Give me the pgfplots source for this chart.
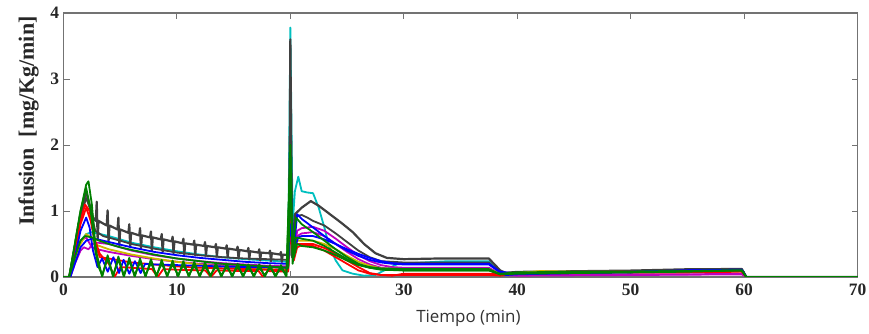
\documentclass[border=0pt]{standalone}
\usepackage{fontspec}
\setmainfont{Liberation Serif}
\newfontfamily\sansx{Open Sans}
\usepackage{pgfplots}
\pgfplotsset{compat=1.18}
\definecolor{mblue}{rgb}{0,0,1}
\definecolor{mgreen}{rgb}{0,0.5,0}
\definecolor{mred}{rgb}{1,0,0}
\definecolor{mcyan}{rgb}{0,0.75,0.75}
\definecolor{mmag}{rgb}{0.75,0,0.75}
\definecolor{myel}{rgb}{0.8,0.72,0}
\definecolor{mgray}{rgb}{0.25,0.25,0.25}
\definecolor{axgray}{rgb}{0.45,0.45,0.45}
\begin{document}
\begin{tikzpicture}
\path[use as bounding box] (-63.5bp,-57bp) rectangle (805.5bp,277bp);
\begin{axis}[
  at={(0,0)}, anchor=south west,
  scale only axis, width=794bp, height=264bp,
  xmin=0, xmax=70, ymin=0, ymax=4,
  xtick={0,10,...,70}, ytick={0,1,2,3,4},
  tick align=inside, major tick length=6bp,
  axis line style={axgray, line width=1.2bp},
  every tick/.style={axgray, line width=1bp},
  /pgf/number format/assume math mode=true,
  ticklabel style={font=\bfseries\fontsize{17.5}{17.5}\selectfont, text=black!85},
  xticklabel style={yshift=-3bp},
  yticklabel style={xshift=-1bp},
  xlabel={\sansx\fontsize{17}{17}\selectfont Tiempo (min)},
  ylabel={\bfseries\fontsize{22}{22}\selectfont Infusion\ \ [mg/Kg/min]},
  xlabel style={at={(axis description cs:0.51,0)}, anchor=center, yshift=-41bp, text=black!80},
  ylabel style={at={(axis description cs:-0.044,0.59)}, anchor=center, text=black!85},
  every axis plot/.append style={line width=1.8bp, line join=round},
]
% cyan
\addplot[mcyan] coordinates {(0,0)(0.5,0)(1,0.3)(1.5,0.55)(2,0.65)(2.5,0.68)(3,0.66)(4,0.62)(5,0.57)(6,0.52)(8,0.45)(10,0.39)(12,0.34)(14,0.3)(16,0.27)(18,0.25)(19.8,0.23)(20,3.78)(20.2,0.8)(20.4,1.3)(20.7,1.52)(21,1.3)(21.5,1.28)(22,1.27)(22.5,1.05)(23,0.75)(23.4,0.48)(24,0.25)(24.6,0.1)(25.5,0.05)(26.5,0.02)(27.5,0.03)(28.5,0.12)(29.5,0.2)(34,0.24)(37.5,0.24)(38.5,0.06)(40,0.05)(45,0.06)(50,0.07)(55,0.08)(59.8,0.09)(60.2,0)(70,0)};
% dark gray comb
\addplot[mgray, line width=2.2bp] coordinates {(0,0)(0.5,0)(1.0,0.45)(1.5,0.95)(2.0,1.3)(2.3,1.1)(2.6,0.9)
(2.85,0.85)(2.93,1.14)(3.01,0.58)(3.09,0.85)
(3.81,0.78)(3.89,1.01)(3.97,0.53)(4.05,0.78)
(4.76,0.72)(4.84,0.90)(4.92,0.48)(5.00,0.72)
(5.72,0.67)(5.80,0.80)(5.88,0.45)(5.96,0.67)
(6.67,0.63)(6.75,0.74)(6.83,0.42)(6.91,0.63)
(7.63,0.60)(7.71,0.69)(7.79,0.40)(7.87,0.60)
(8.58,0.57)(8.66,0.65)(8.74,0.38)(8.82,0.57)
(9.54,0.54)(9.62,0.61)(9.70,0.36)(9.78,0.54)
(10.49,0.51)(10.57,0.58)(10.65,0.34)(10.73,0.51)
(11.45,0.49)(11.53,0.55)(11.61,0.33)(11.69,0.49)
(12.40,0.47)(12.48,0.53)(12.56,0.32)(12.64,0.47)
(13.36,0.45)(13.44,0.50)(13.52,0.31)(13.60,0.45)
(14.31,0.43)(14.39,0.48)(14.47,0.30)(14.55,0.43)
(15.27,0.41)(15.35,0.46)(15.43,0.28)(15.51,0.41)
(16.22,0.39)(16.30,0.44)(16.38,0.27)(16.46,0.39)
(17.18,0.37)(17.26,0.42)(17.34,0.25)(17.42,0.37)
(18.13,0.36)(18.21,0.40)(18.29,0.24)(18.37,0.36)
(19.09,0.34)(19.17,0.38)(19.25,0.23)(19.33,0.34)
(19.9,0.33)(20.0,3.6)(20.15,0.3)(20.4,0.95)(21,1.05)(21.8,1.15)(22.5,1.08)(23.5,0.95)(24.5,0.82)(25.5,0.68)(26.5,0.5)(27.5,0.36)(28.5,0.29)(30,0.27)(33,0.28)(37.5,0.28)(38.5,0.1)(39,0.06)(40,0.06)(45,0.07)(50,0.08)(55,0.1)(58,0.12)(59.8,0.12)(60.2,0)(70,0)};
% dark gray 2
\addplot[mgray] coordinates {(0,0)(0.5,0)(1,0.45)(1.5,0.9)(2,1.2)(2.4,1.0)(2.8,0.7)(3.5,0.62)(5,0.55)(6,0.5)(8,0.43)(10,0.37)(12,0.33)(14,0.3)(16,0.28)(18,0.27)(19.8,0.26)(20,2.5)(20.2,0.5)(20.5,0.92)(21,0.94)(21.5,0.9)(22,0.85)(23,0.78)(24,0.66)(25,0.53)(26,0.4)(27,0.3)(28,0.24)(30,0.22)(37.5,0.22)(38.5,0.06)(40,0.08)(45,0.09)(50,0.1)(55,0.12)(59.8,0.12)(60.2,0)(70,0)};
% magenta
\addplot[mmag] coordinates {(0,0)(0.6,0)(1,0.2)(1.5,0.4)(1.8,0.45)(2.2,0.42)(2.6,0.5)(3,0.52)(4,0.5)(5,0.45)(6,0.4)(8,0.33)(10,0.28)(12,0.24)(14,0.21)(16,0.19)(18,0.17)(19.8,0.16)(20,1.2)(20.3,0.3)(20.6,0.7)(21,0.74)(22,0.76)(23,0.7)(24,0.58)(25,0.45)(26,0.33)(27,0.24)(28,0.18)(29,0.15)(30,0.14)(34,0.14)(37.5,0.14)(38.5,0.05)(40,0.03)(45,0.03)(50,0.04)(55,0.04)(59.8,0.05)(60.2,0)(70,0)};
% magenta 2
\addplot[mmag] coordinates {(0,0)(0.6,0)(1,0.3)(1.5,0.55)(2,0.6)(2.5,0.45)(3,0.42)(4,0.38)(5,0.35)(6,0.32)(8,0.27)(10,0.23)(12,0.2)(14,0.18)(16,0.16)(18,0.15)(19.8,0.14)(20,0.9)(20.3,0.3)(20.6,0.62)(21,0.66)(22,0.68)(23,0.62)(24,0.5)(25,0.38)(26,0.27)(27,0.19)(28,0.14)(29,0.12)(30,0.11)(37.5,0.11)(38.5,0.03)(40,0.02)(50,0.03)(59.8,0.04)(60.2,0)(70,0)};
% yellow
\addplot[myel] coordinates {(0,0)(0.6,0)(1,0.25)(1.5,0.5)(2,0.65)(2.4,0.6)(3,0.48)(4,0.42)(5,0.38)(6,0.34)(8,0.28)(10,0.23)(12,0.19)(14,0.16)(16,0.14)(18,0.12)(19.8,0.11)(20,1.0)(20.3,0.3)(20.6,0.55)(21,0.55)(22,0.55)(23,0.5)(24,0.42)(25,0.32)(26,0.23)(27,0.17)(28,0.13)(30,0.12)(34,0.12)(37.5,0.12)(38.5,0.05)(40,0.06)(42,0.09)(45,0.08)(50,0.08)(55,0.08)(59.8,0.09)(60.2,0)(70,0)};
% red 2
\addplot[mred] coordinates {(0,0)(0.6,0)(1,0.35)(1.5,0.8)(2,1.05)(2.4,0.85)(2.8,0.5)(3.2,0.3)(4,0.28)(5,0.25)(6,0.22)(8,0.19)(10,0.16)(12,0.14)(14,0.13)(16,0.12)(18,0.11)(19.8,0.1)(20,0.7)(20.3,0.25)(20.6,0.45)(21,0.48)(22,0.47)(23,0.4)(24,0.3)(25,0.2)(26,0.1)(27,0.05)(28,0.03)(30,0.03)(37.5,0.03)(38.5,0.02)(40,0.05)(45,0.07)(50,0.08)(55,0.08)(59.8,0.09)(60.2,0)(70,0)};
% red
\addplot[mred] coordinates {(0,0)(0.6,0)(1,0.4)(1.5,0.85)(1.9,1.1)(2.3,1.0)(2.7,0.6)(3.2,0.35)(4,0.2)(4.5,0)(5.0,0.15)(6,0.14)(7.8,0.12)(8.3,0)(8.8,0.12)(10,0.11)(12.5,0.1)(13.0,0)(13.5,0.1)(16,0.09)(17.2,0.09)(17.6,0)(18.0,0.09)(19.8,0.08)(20,1.0)(20.3,0.5)(21,0.5)(22,0.5)(23,0.44)(24,0.35)(25,0.25)(26,0.15)(27,0.06)(28,0.03)(29,0.02)(30,0.05)(34,0.05)(37.5,0.05)(38.5,0.04)(40,0.05)(45,0.06)(50,0.07)(55,0.07)(59.8,0.08)(60.2,0)(70,0)};
% blue 2
\addplot[mblue] coordinates {(0,0)(0.6,0)(1,0.2)(1.5,0.45)(2,0.55)(2.5,0.58)(3,0.57)(4,0.53)(5,0.49)(6,0.45)(8,0.38)(10,0.33)(12,0.29)(14,0.26)(16,0.23)(18,0.21)(19.8,0.2)(20,0.8)(20.3,0.4)(20.7,0.6)(21,0.62)(22,0.62)(23,0.57)(24,0.5)(25,0.42)(26,0.35)(27,0.29)(28,0.24)(29,0.21)(30,0.2)(34,0.2)(37.5,0.2)(38.5,0.08)(40,0.05)(45,0.06)(50,0.07)(55,0.1)(59.8,0.11)(60.2,0)(70,0)};
% blue
\addplot[mblue] coordinates {(0,0)(0.6,0)(1,0.3)(1.5,0.7)(2,0.9)(2.3,0.75)(2.6,0.4)(3,0.15)(3.4,0.28)(3.9,0.08)(4.4,0.3)(4.9,0.06)(5.3,0.26)(5.8,0.05)(6.3,0.24)(6.8,0.06)(7.2,0.2)(8,0.19)(10,0.18)(12,0.17)(14,0.16)(16,0.15)(18,0.15)(19.8,0.14)(20,1.5)(20.3,0.4)(20.6,0.95)(21,0.88)(22,0.75)(23,0.62)(24,0.5)(25,0.4)(26,0.32)(27,0.26)(28,0.22)(29,0.2)(30,0.19)(34,0.19)(37.5,0.19)(38.5,0.07)(39,0.03)(40,0.04)(45,0.06)(50,0.08)(55,0.1)(59.8,0.11)(60.2,0)(70,0)};
% green 2
\addplot[mgreen] coordinates {(0,0)(0.5,0)(1,0.3)(1.5,0.55)(1.9,0.62)(2.5,0.6)(3,0.56)(4,0.5)(5,0.45)(6,0.41)(8,0.34)(10,0.28)(12,0.24)(14,0.2)(16,0.18)(18,0.16)(19.8,0.14)(20,1.3)(20.3,0.3)(20.6,0.5)(21,0.47)(22,0.45)(23,0.4)(24,0.33)(25,0.25)(26,0.18)(27,0.14)(28,0.12)(30,0.1)(37.5,0.1)(38.5,0.05)(40,0.07)(45,0.08)(50,0.08)(55,0.09)(59.8,0.1)(60.2,0)(70,0)};
% green oscillating 2
\addplot[mgreen] coordinates {(0,0)(0.5,0)(1,0.5)(1.5,1.0)(2,1.35)(2.4,1.0)(2.8,0.4)(3.1,0.15)
(3.41,0.03)(3.89,0.28)(4.37,0.03)(4.84,0.26)(5.32,0.03)(5.80,0.24)(6.28,0.03)(6.75,0.22)(7.23,0.03)(7.71,0.21)(8.19,0.03)(8.66,0.2)(9.14,0.03)(9.62,0.19)(10.10,0.03)(10.57,0.18)(11.05,0.03)(11.53,0.17)(12.01,0.03)(12.48,0.16)(12.96,0.03)(13.44,0.16)(13.92,0.03)(14.39,0.15)(14.87,0.03)(15.35,0.15)(15.83,0.03)(16.30,0.14)(16.78,0.03)(17.26,0.14)(17.74,0.03)(18.21,0.14)(18.69,0.03)(19.17,0.13)(19.65,0.03)
(20,1.8)(20.2,0.2)(20.5,0.6)(21,0.58)(22,0.55)(23,0.47)(24,0.37)(25,0.27)(26,0.19)(27,0.15)(28,0.13)(30,0.12)(37.5,0.12)(38.5,0.04)(40,0.06)(45,0.07)(50,0.08)(55,0.09)(59.8,0.1)(60.2,0)(70,0)};
% green oscillating
\addplot[mgreen] coordinates {(0,0)(0.5,0)(1,0.5)(1.5,1.0)(2,1.4)(2.2,1.45)(2.5,1.1)(2.8,0.5)
(2.93,0.35)(3.41,0)(3.89,0.33)(4.37,0)(4.84,0.31)(5.32,0)(5.80,0.29)(6.28,0)(6.75,0.28)(7.23,0)(7.71,0.27)(8.19,0)(8.66,0.26)(9.14,0)(9.62,0.25)(10.10,0)(10.57,0.24)(11.05,0)(11.53,0.23)(12.01,0)(12.48,0.22)(12.96,0)(13.44,0.21)(13.92,0)(14.39,0.2)(14.87,0)(15.35,0.2)(15.83,0)(16.30,0.19)(16.78,0)(17.26,0.19)(17.74,0)(18.21,0.18)(18.69,0)(19.17,0.18)(19.65,0)
(20,2.0)(20.2,0.4)(20.5,0.9)(21,0.8)(22,0.68)(23,0.55)(24,0.42)(25,0.3)(26,0.2)(27,0.14)(28,0.11)(30,0.1)(34,0.1)(37.5,0.1)(38.5,0.04)(40,0.05)(45,0.06)(50,0.07)(55,0.08)(59.8,0.1)(60.2,0)(70,0)};
\end{axis}
\end{tikzpicture}
\end{document}
